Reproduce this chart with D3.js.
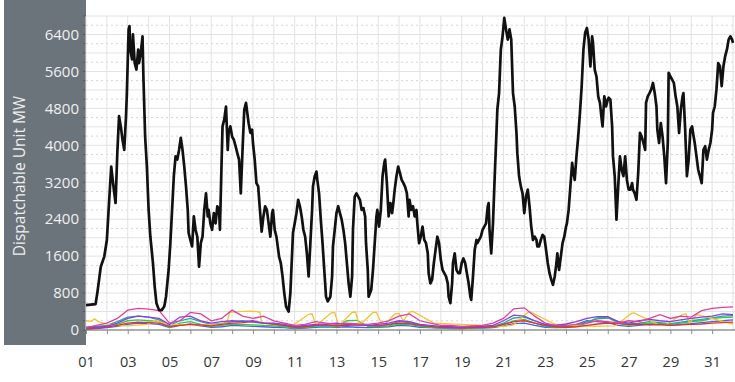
<!DOCTYPE html>
<html><head><meta charset="utf-8">
<script src="https://cdn.jsdelivr.net/npm/d3@7"></script>
<style>html,body{margin:0;padding:0;background:#fff;} svg{display:block;font-family:"Open Sans",sans-serif;}</style>
</head><body><svg id="c" width="735" height="382"></svg>
<script>
// ---- Data ----
const yTicks = [0, 800, 1600, 2400, 3200, 4000, 4800, 5600, 6400];
const xTickLabels = ["01","03","05","07","09","11","13","15","17","19","21","23","25","27","29","31"];
const axisTitle = "Dispatchable Unit MW";

// total dispatchable MW (hours since 01 00:00)
const totalHours = [0,11,13,16,17,21,24,26,29,32,34,36,38,40,42,44,46,47,49,50,51,53,54,56,58,60,61,63,65,66,68,70,72,74,77,79,81,84,87,90,92,95,97,99,101,103,105,107,109,111,113,115,117,118,120,122,124,126,128,130,132,134,136,138,140,141,143,145,147,149,151,153,154,156,157,159,161,163,164,166,168,170,172,174,176,178,180,182,184,185,187,189,191,192,194,196,198,200,202,204,206,208,210,212,214,215,217,219,220,222,224,226,228,230,233,235,237,238,240,242,244,246,248,250,252,254,256,258,260,261,263,265,266,268,270,272,274,276,278,281,283,284,286,288,290,292,294,296,298,300,302,304,306,307,309,311,313,315,317,319,321,322,324,325,328,330,332,334,335,337,339,341,343,344,346,348,350,352,353,355,357,359,361,363,365,367,369,371,372,374,376,378,380,381,383,385,387,389,391,393,394,396,398,400,402,404,406,408,410,412,414,416,417,419,421,422,424,426,428,430,432,434,436,438,440,442,443,445,447,449,450,452,454,456,458,460,462,463,464,466,468,470,472,473,475,477,479,481,483,485,487,489,491,493,495,496,498,500,502,504,506,508,510,512,514,516,518,519,521,523,525,527,529,531,533,535,537,539,541,542,544,546,548,550,552,553,555,557,559,560,562,564,566,568,570,572,574,576,578,580,582,583,585,587,589,591,593,594,596,598,600,601,603,605,606,608,610,612,614,616,618,620,622,624,626,628,629,631,633,635,637,639,641,643,644,646,648,650,652,654,656,657,659,661,663,665,667,669,670,672,674,676,678,680,682,684,686,687,689,691,693,695,697,698,700,702,704,706,708,710,712,714,716,718,720,721,723,725,727,729,731,733,735,737,739,741,743,744];
const totalMW = [540,560,800,1230,1370,1590,1950,2600,3540,3040,2750,3830,4630,4410,4120,3900,4630,5130,6510,6580,6070,5860,6400,5780,5640,6070,5780,6000,6360,5490,4190,3540,2600,2020,1450,940,580,430,430,510,720,1300,1880,2600,3330,3760,3690,3900,4160,3900,3540,3110,2600,2100,1950,1810,2460,2170,2020,1370,1880,2020,2600,2960,2460,2600,2310,2170,2530,2310,2680,2600,2170,3690,4410,4560,4840,3900,4270,4410,4190,4120,3980,3830,3690,2960,3900,4770,4920,4770,4480,4270,4340,4050,3690,3180,3110,2600,2130,2460,2680,2600,2310,2020,2530,2600,2170,2020,1880,1590,1450,1160,800,510,400,800,1660,2100,2310,2530,2820,2680,2460,2170,2020,1660,1160,1880,2600,3110,3330,3430,3250,2960,2390,1880,1300,720,620,720,1160,1810,2170,2530,2680,2530,2390,2170,1880,1450,1010,720,1160,2170,2890,2960,2890,2820,2600,2640,2460,1880,1300,720,870,1300,1880,2460,2600,2240,2600,3330,3620,3690,3180,2460,2750,2530,2680,3040,3330,3540,3400,3250,3180,3100,2960,2460,2820,2600,2680,2460,2600,2310,1880,2020,2240,1950,1880,1660,1230,1010,1090,1450,1740,2020,1880,1520,1300,1230,1160,1010,720,580,1010,1450,1660,1300,1230,1230,1450,1550,1450,1230,1010,720,650,1160,1740,1950,1880,1950,2020,2170,2240,2310,2680,2750,2170,1660,2310,3330,4270,4770,5130,6070,6360,6760,6510,6290,6510,6290,5130,4840,4270,3830,3330,3110,2960,2530,2890,3040,2680,2240,1950,2020,1950,1810,1810,1950,2060,2020,1740,1450,1230,1090,980,1160,1450,1660,1300,1590,1880,2020,2240,2310,2600,3110,3620,3470,3250,3760,4190,4700,5280,6070,6440,6540,6290,5710,6360,6220,5640,5490,5060,4920,4560,4410,5060,4840,4990,5030,4990,4410,3760,3330,2390,3110,3760,3470,3330,3760,3250,3040,3040,3180,3040,2960,2820,3400,4270,4190,4050,3900,4920,5060,5130,5210,5350,5130,4840,4340,4050,4480,4190,3760,3180,4050,5570,5490,5420,5350,5060,4840,4270,4770,5060,5130,4340,3330,3690,4340,4410,4270,4050,3760,3470,3330,3180,3900,3980,3690,3900,4050,4340,4700,4840,5210,5780,5710,5280,5710,5930,6070,6290,6360,6290,6220];

// individual units, values every 12 hours from 01 00:00 to 31 24:00
const unitMagenta = [50,100,150,250,430,470,450,420,150,200,380,350,200,250,430,300,250,300,200,150,100,120,180,150,120,150,130,120,150,200,300,350,200,150,100,100,80,90,100,150,250,460,480,300,150,100,100,120,150,200,180,150,200,180,250,330,250,300,280,420,470,490,500];
const unitPurple = [50,60,80,150,250,300,280,250,120,280,300,200,150,180,200,180,200,150,150,120,80,100,120,130,150,120,120,100,120,150,200,180,120,100,80,70,60,80,80,100,200,320,300,200,120,100,130,180,250,290,290,180,150,200,230,200,180,220,250,280,300,350,330];
const unitRed = [20,40,60,100,150,170,160,150,80,100,120,110,90,120,150,160,180,150,130,100,60,70,100,110,90,100,110,100,90,120,150,140,100,80,60,50,40,50,60,70,120,180,200,150,100,70,60,70,100,130,150,140,120,130,110,120,100,110,120,130,150,160,170];
const unitGreen = [30,50,80,120,200,220,200,180,60,150,180,120,80,100,130,120,110,100,90,70,40,60,80,90,70,200,210,80,70,90,130,120,80,60,40,40,30,40,50,60,120,200,230,150,80,60,50,80,150,270,280,150,100,120,150,140,120,150,180,200,250,270,280];
const unitTeal = [60,80,100,180,280,300,280,220,100,200,250,180,120,140,180,200,170,150,120,90,60,80,100,110,100,120,110,100,90,110,180,160,110,80,60,60,50,60,60,80,150,260,280,200,110,80,70,110,180,240,260,180,130,150,180,160,140,170,200,230,260,300,310];
const unitBlue = [20,30,50,80,120,150,140,120,50,100,130,90,60,70,100,90,80,70,60,50,30,40,60,70,60,70,60,50,60,70,100,90,60,50,40,30,30,40,40,50,90,140,150,100,60,50,60,120,200,180,160,100,80,100,120,110,100,120,140,160,180,200,220];
// peaking unit with on/off plateaus (hours, MW)
const unitYellowHours = [0,6,10,14,20,30,48,70,80,90,100,130,150,162,165,175,190,200,202,230,238,240,256,260,264,266,282,286,290,292,306,310,314,316,330,334,340,345,355,360,365,372,376,400,480,490,492,508,511,540,580,608,610,627,630,660,666,668,686,690,694,702,705,744];
const unitYellowMW = [200,190,240,180,150,100,90,120,200,150,110,120,110,150,380,400,410,390,150,120,100,130,340,350,120,120,370,380,120,120,380,390,130,130,380,380,130,140,350,360,200,390,400,150,80,100,120,380,390,120,80,90,110,360,370,100,110,130,340,350,150,330,320,130,150];

// ---- Drawing ----
const svg = d3.select("#c");
const X0 = 86, X1 = 733, Y0 = 330, Y1 = 16;
const x = d3.scaleLinear().domain([0, 744]).range([X0, X1]);
const y = d3.scaleLinear().domain([0, 6800]).range([Y0, Y1]);

// left grey panel
svg.append("rect").attr("x", 4).attr("y", 0).attr("width", X0 - 4).attr("height", 345).attr("fill", "#6b737b");

// grid
const g = svg.append("g");
d3.range(0, 6801, 200).forEach(v => {
  const solid = v % 400 === 0;
  g.append("line").attr("x1", X0).attr("x2", 735).attr("y1", y(v)).attr("y2", y(v))
    .attr("stroke", solid ? "#e2e2e2" : "#d4d4d4").attr("stroke-width", 1)
    .attr("stroke-dasharray", solid ? null : "2,3");
  g.append("line").attr("x1", X0 - 3).attr("x2", X0).attr("y1", y(v)).attr("y2", y(v))
    .attr("stroke", "#50585f").attr("stroke-width", 1);
});
d3.range(0, 32).forEach(d => {
  g.append("line").attr("x1", x(d * 24)).attr("x2", x(d * 24)).attr("y1", Y1).attr("y2", Y0)
    .attr("stroke", "#e2e2e2").attr("stroke-width", 1);
});

// unit lines
const hours12 = d3.range(0, 745, 12);
const line = d3.line().x(d => x(d[0])).y(d => y(d[1])).curve(d3.curveLinear);
const units = [
  {h: hours12, v: unitBlue, c: "#4763df"},
  {h: hours12, v: unitGreen, c: "#3cc447"},
  {h: hours12, v: unitTeal, c: "#22a89c"},
  {h: unitYellowHours, v: unitYellowMW, c: "#f2c431"},
  {h: hours12, v: unitRed, c: "#e2312f"},
  {h: hours12, v: unitPurple, c: "#8a3de6"},
  {h: hours12, v: unitMagenta, c: "#df3fa0"}
];
units.forEach(u => {
  svg.append("path").datum(u.h.map((h, i) => [h, u.v[i]]))
    .attr("d", line).attr("fill", "none").attr("stroke", u.c).attr("stroke-width", 1.3);
});

// total line
svg.append("path").datum(totalHours.map((h, i) => [h, totalMW[i]]))
  .attr("d", line).attr("fill", "none").attr("stroke", "#111").attr("stroke-width", 2.7)
  .attr("stroke-linejoin", "round");

// x axis
const xAxis = svg.append("g").attr("transform", `translate(0,${Y0})`)
  .call(d3.axisBottom(x).tickValues(d3.range(0, 31).map(d => d * 24)).tickSize(4)
    .tickFormat(h => (h / 24) % 2 === 0 ? xTickLabels[h / 48] : ""));
xAxis.select(".domain").attr("stroke", "#6a6a6a").attr("d", `M${X0},0H735`);
xAxis.selectAll(".tick line").attr("stroke", "#8a8a8a");
xAxis.selectAll("text").attr("fill", "#333").attr("font-size", 14.5).attr("y", 27)
  .attr("font-family", "Open Sans");

// y axis labels
const yAxis = svg.append("g").attr("transform", `translate(79,0)`)
  .call(d3.axisLeft(y).tickValues(yTicks).tickSize(0).tickPadding(0).tickFormat(d3.format("d")));
yAxis.select(".domain").remove();
yAxis.selectAll("text").attr("fill", "#f0f0f0").attr("font-size", 15).attr("font-family", "Open Sans");

// title
svg.append("text").attr("transform", "translate(19,176) rotate(-90)")
  .attr("text-anchor", "middle").attr("dominant-baseline", "central")
  .attr("fill", "#eeeeee").attr("font-size", 15.5).text(axisTitle);
</script></body></html>
